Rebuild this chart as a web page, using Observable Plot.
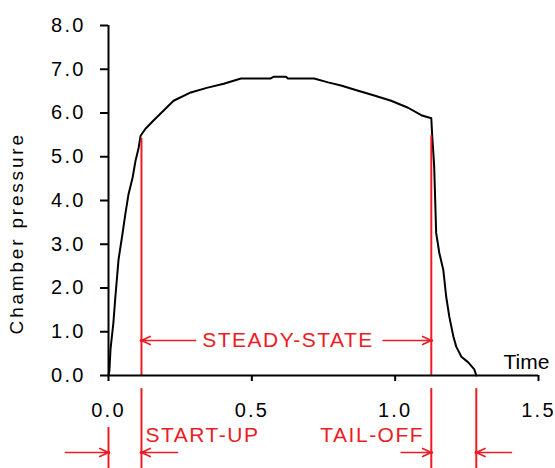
<!DOCTYPE html>
<html>
<head>
<meta charset="utf-8">
<script src="https://cdn.jsdelivr.net/npm/d3@7"></script>
<script src="https://cdn.jsdelivr.net/npm/@observablehq/plot@0.6"></script>
<style>
  html, body { margin: 0; padding: 0; background: #fff; }
</style>
</head>
<body>
<div id="chart"></div>
<script>
// Chamber pressure vs time
const time = [0, 0.003, 0.007, 0.017, 0.024, 0.035, 0.049, 0.059, 0.070, 0.084, 0.094, 0.105, 0.112, 0.129, 0.157, 0.227, 0.287, 0.346, 0.402, 0.462, 0.566, 0.577, 0.619, 0.626, 0.717, 0.766, 0.811, 0.871, 0.927, 0.986, 1.045, 1.091, 1.126, 1.129, 1.136, 1.143, 1.154, 1.168, 1.178, 1.189, 1.203, 1.213, 1.231, 1.255, 1.276, 1.283];
const pressure = [0, 0.1, 0.6, 1.2, 1.8, 2.65, 3.25, 3.7, 4.15, 4.52, 4.9, 5.2, 5.48, 5.64, 5.83, 6.28, 6.47, 6.58, 6.67, 6.79, 6.79, 6.83, 6.83, 6.79, 6.79, 6.70, 6.63, 6.51, 6.40, 6.28, 6.12, 5.95, 5.88, 5.5, 4.8, 3.26, 2.8, 2.41, 1.8, 1.34, 0.89, 0.66, 0.43, 0.3, 0.14, 0];

// Phase boundaries (time)
const phaseTimes = [0, 0.115, 1.126, 1.283];
const phaseLabels = ["START-UP", "STEADY-STATE", "TAIL-OFF"];

const xTicks = [0, 0.5, 1.0, 1.5];
const yTicks = [0, 1, 2, 3, 4, 5, 6, 7, 8];
const xLabel = "Time";
const yLabel = "Chamber pressure";

const red = "#ec1c24";
const curve = time.map((t, i) => ({t, p: pressure[i]}));

const upperGuides = [
  {x: phaseTimes[1], y1: 0, y2: 5.42},
  {x: phaseTimes[2], y1: 0, y2: 5.48}
];
const lowerGuides = [
  {x: phaseTimes[0], y1: -1.19, y2: -2.3},
  {x: phaseTimes[1], y1: -0.30, y2: -2.3},
  {x: phaseTimes[2], y1: -0.30, y2: -2.3},
  {x: phaseTimes[3], y1: -0.30, y2: -2.3}
];
const arrowY = -1.76, steadyY = 0.8;
const arrows = [
  {x1: 0.304, y1: steadyY, x2: phaseTimes[1], y2: steadyY},
  {x1: 0.958, y1: steadyY, x2: phaseTimes[2], y2: steadyY},
  {x1: -0.15, y1: arrowY, x2: phaseTimes[0], y2: arrowY},
  {x1: 0.241, y1: arrowY, x2: phaseTimes[1], y2: arrowY},
  {x1: 1.021, y1: arrowY, x2: phaseTimes[2], y2: arrowY},
  {x1: 1.406, y1: arrowY, x2: phaseTimes[3], y2: arrowY}
];

const fmt = d3.format(".1f");

const chart = Plot.plot({
  width: 555,
  height: 468,
  marginLeft: 108,
  marginRight: 17,
  marginTop: 25,
  marginBottom: 93,
  style: {fontFamily: "'Liberation Sans', Arial, sans-serif", background: "#fff", color: "#000", overflow: "hidden"},
  x: {domain: [0, 1.5], axis: null},
  y: {domain: [0, 8], axis: null},
  marks: [
    Plot.line(curve, {x: "t", y: "p", stroke: "#000", strokeWidth: 2, curve: "linear"}),
    Plot.ruleX(upperGuides, {x: "x", y1: "y1", y2: "y2", stroke: red, strokeWidth: 2}),
    Plot.ruleX(lowerGuides, {x: "x", y1: "y1", y2: "y2", stroke: red, strokeWidth: 2}),
    Plot.ruleY([0], {stroke: "#000", strokeWidth: 2}),
    Plot.ruleX([0], {stroke: "#000", strokeWidth: 2}),
    Plot.axisX(xTicks, {anchor: "bottom", tickSize: 6, tickPadding: 21, strokeWidth: 2, tickFormat: fmt, fontSize: 20}),
    Plot.axisY(yTicks, {anchor: "left", tickSize: 8, tickPadding: 15, strokeWidth: 2, tickFormat: fmt, fontSize: 20}),
    Plot.arrow(arrows, {x1: "x1", y1: "y1", x2: "x2", y2: "y2", stroke: red, strokeWidth: 1.6, headLength: 9, headAngle: 50, insetEnd: 0}),
    Plot.dot(arrows, {x: "x2", y: "y2", r: 1.8, fill: red}),
    Plot.text([phaseLabels[1]], {x: 0.626, y: steadyY, text: d => d, fill: red, fontSize: 21, textAnchor: "middle"}),
    Plot.text([phaseLabels[0]], {x: 0.129, y: -1.37, text: d => d, fill: red, fontSize: 21, textAnchor: "start"}),
    Plot.text([phaseLabels[2]], {x: 1.101, y: -1.37, text: d => d, fill: red, fontSize: 21, textAnchor: "end"}),
    Plot.text([xLabel], {x: 1.378, y: 0.3, text: d => d, fill: "#000", fontSize: 21, textAnchor: "start"}),
    Plot.text([yLabel], {x: -0.318, y: 3.25, text: d => d, fill: "#000", fontSize: 19, rotate: -90, textAnchor: "middle"})
  ]
});

const svg = d3.select(chart);
svg.selectAll("g").filter(function() {
  const a = this.getAttribute("aria-label") || "";
  return a.indexOf("tick label") >= 0;
}).selectAll("text").style("letter-spacing", "2.2px");
svg.selectAll("text").filter(function() { return phaseLabels.includes(this.textContent); })
  .style("letter-spacing", "1.5px");
svg.selectAll("text").filter(function() { return this.textContent === yLabel; })
  .style("letter-spacing", "2.8px");

document.getElementById("chart").appendChild(chart);
</script>
</body>
</html>
